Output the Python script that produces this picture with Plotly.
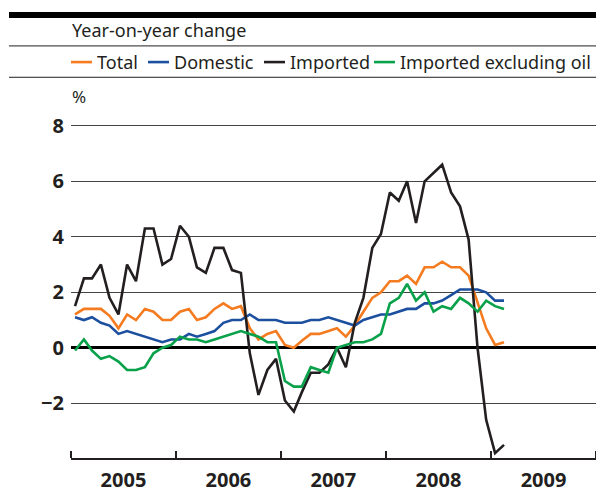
import pandas as pd
import plotly.graph_objects as go

# ---- data (monthly, Jan 2005 - Feb 2009) ----
start_month = "2005-01"
n_months = 50
total = [1.2, 1.4, 1.4, 1.4, 1.15, 0.7, 1.2, 1.0, 1.4, 1.3, 1.0, 1.0,
         1.3, 1.4, 1.0, 1.1, 1.4, 1.6, 1.4, 1.5, 0.7, 0.3, 0.5, 0.6,
         0.1, 0.0, 0.25, 0.5, 0.5, 0.6, 0.7, 0.4, 0.8, 1.3, 1.8, 2.0,
         2.4, 2.4, 2.6, 2.3, 2.9, 2.9, 3.1, 2.9, 2.9, 2.6, 1.6, 0.7,
         0.1, 0.2]
domestic = [1.1, 1.0, 1.1, 0.9, 0.8, 0.5, 0.6, 0.5, 0.4, 0.3, 0.2, 0.3,
            0.3, 0.5, 0.4, 0.5, 0.6, 0.9, 1.0, 1.0, 1.2, 1.0, 1.0, 1.0,
            0.9, 0.9, 0.9, 1.0, 1.0, 1.1, 1.0, 0.9, 0.8, 1.0, 1.1, 1.2,
            1.2, 1.3, 1.4, 1.4, 1.6, 1.6, 1.7, 1.9, 2.1, 2.1, 2.1, 2.0,
            1.7, 1.7]
imported = [1.5, 2.5, 2.5, 3.0, 1.8, 1.2, 3.0, 2.4, 4.3, 4.3, 3.0, 3.2,
            4.4, 4.0, 2.9, 2.7, 3.6, 3.6, 2.8, 2.7, -0.2, -1.7, -0.8, -0.4,
            -1.9, -2.3, -1.6, -0.9, -0.9, -0.6, 0.0, -0.7, 0.9, 1.8, 3.6, 4.1,
            5.6, 5.3, 6.0, 4.5, 6.0, 6.3, 6.6, 5.6, 5.1, 3.9, 0.0, -2.6,
            -3.8, -3.5]
imported_ex_oil = [-0.1, 0.3, -0.1, -0.4, -0.3, -0.5, -0.8, -0.8, -0.7, -0.2, 0.0, 0.1,
                   0.4, 0.3, 0.3, 0.2, 0.3, 0.4, 0.5, 0.6, 0.5, 0.4, 0.2, 0.2,
                   -1.2, -1.4, -1.4, -0.7, -0.8, -0.9, 0.0, 0.1, 0.2, 0.2, 0.3, 0.5,
                   1.6, 1.8, 2.3, 1.7, 2.0, 1.3, 1.5, 1.4, 1.8, 1.6, 1.3, 1.7,
                   1.5, 1.4]

series_names = ["Total", "Domestic", "Imported", "Imported excluding oil"]
series_values = [total, domestic, imported, imported_ex_oil]
series_colors = ["#F47B20", "#1D4F9F", "#231F20", "#0AA14B"]

y_ticks = [-2, 0, 2, 4, 6, 8]
year_labels = ["2005", "2006", "2007", "2008", "2009"]

heading = "Year-on-year change"
unit_label = "%"

# ---- geometry helpers (pixels -> paper) ----
W, H = 596, 493
ML, MR, MT, MB = 71, 0, 115, 28
PW, PH = W - ML - MR, H - MT - MB


def px(x):
    return (x - ML) / PW


def py(y):
    return (H - MB - y) / PH


months = pd.date_range(start_month, periods=n_months, freq="MS") + pd.Timedelta(days=14)

fig = go.Figure()
for name, vals, col in zip(series_names, series_values, series_colors):
    fig.add_trace(go.Scatter(x=months, y=vals, mode="lines", name=name,
                             line=dict(color=col, width=2.6), showlegend=False,
                             hoverinfo="skip"))

FONT = "Noto Sans"
TXT = "#231F20"

fig.update_layout(
    width=W, height=H,
    margin=dict(l=ML, r=MR, t=MT, b=MB, pad=0),
    paper_bgcolor="white", plot_bgcolor="white",
    font=dict(family=FONT, color=TXT, size=18),
    xaxis=dict(
        type="date",
        range=[f"{year_labels[0]}-01-01", f"{int(year_labels[-1]) + 1}-01-01"],
        tick0=f"{year_labels[0]}-01-01", dtick="M12",
        tickformat="%Y", ticklabelmode="period",
        ticks="inside", ticklen=7, tickwidth=1.5, tickcolor="#231F20",
        showline=True, linecolor="#231F20", linewidth=1.5,
        showgrid=False, zeroline=False,
        tickfont=dict(family=FONT, size=20, color=TXT, weight="bold"),
        ticklabelstandoff=3,
    ),
    yaxis=dict(
        range=[-3.975, 8.392],
        tickvals=y_ticks,
        ticktext=[("\u2212" + str(abs(v))) if v < 0 else str(v) for v in y_ticks],
        showgrid=True, gridcolor="#444444", gridwidth=1,
        zeroline=True, zerolinecolor="#000000", zerolinewidth=2.6,
        showline=False, ticks="",
        tickfont=dict(family=FONT, size=20, color=TXT, weight="bold"),
        ticklabelstandoff=6,
    ),
)

shapes = []
# header rules
shapes.append(dict(type="rect", xref="paper", yref="paper", x0=px(9), x1=px(W), y0=py(16), y1=py(10),
                   fillcolor="#000000", line=dict(width=0)))
for yy in (44.5, 76.5):
    shapes.append(dict(type="line", xref="paper", yref="paper", x0=px(9), x1=px(W), y0=py(yy), y1=py(yy),
                       line=dict(color="#231F20", width=1)))

annotations = [
    dict(text=heading, xref="paper", yref="paper", x=px(70), y=py(28), xanchor="left", yanchor="middle",
         showarrow=False, font=dict(size=18, family=FONT, color=TXT)),
    dict(text=unit_label, xref="paper", yref="paper", x=px(70), y=py(96), xanchor="left", yanchor="middle",
         showarrow=False, font=dict(size=17, family=FONT, color=TXT)),
]

legend_dash_x = [71, 148, 264, 374]
for name, col, lx in zip(series_names, series_colors, legend_dash_x):
    shapes.append(dict(type="line", xref="paper", yref="paper", x0=px(lx), x1=px(lx + 21),
                       y0=py(61), y1=py(61), line=dict(color=col, width=2.6)))
    annotations.append(dict(text=name, xref="paper", yref="paper", x=px(lx + 24), y=py(61),
                            xanchor="left", yanchor="middle", showarrow=False,
                            font=dict(size=18, family=FONT, color=TXT)))

fig.update_layout(shapes=shapes, annotations=annotations)
fig.write_html("out.html", config={"displayModeBar": False},
               post_script="document.body.style.margin='0';document.body.style.overflow='hidden';")
